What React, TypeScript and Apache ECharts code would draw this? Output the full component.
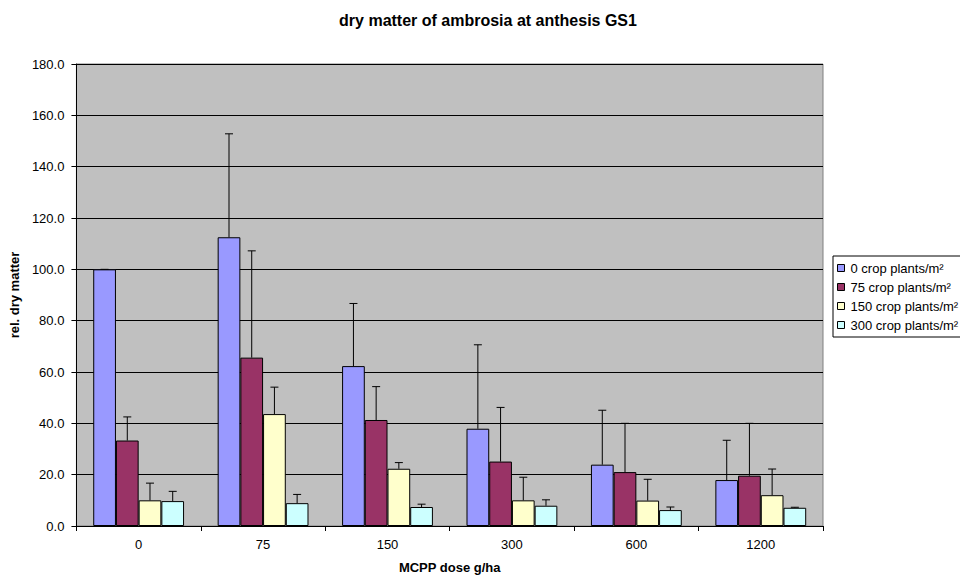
import React, { useEffect, useRef } from "react";
import * as echarts from "echarts";

const categories = ["0", "75", "150", "300", "600", "1200"];
const seriesNames = ["0 crop plants/m²", "75 crop plants/m²", "150 crop plants/m²", "300 crop plants/m²"];
const colors = ["#9999FF", "#993366", "#FFFFCC", "#CCFFFF"];

const vals0 = [100.0, 112.5, 62.3, 37.9, 23.9, 17.9];
const vals75 = [33.3, 65.6, 41.3, 25.1, 21.0, 19.6];
const vals150 = [10.0, 43.6, 22.3, 10.0, 9.9, 12.0];
const vals300 = [9.7, 8.9, 7.4, 7.9, 6.2, 7.1];

const errTop0 = [100.0, 152.8, 86.7, 70.6, 45.1, 33.4];
const errTop75 = [42.5, 107.2, 54.3, 46.2, 40.0, 40.0];
const errTop150 = [16.7, 54.1, 24.7, 19.0, 18.2, 22.2];
const errTop300 = [13.5, 12.3, 8.5, 10.2, 7.4, 7.3];

const allVals = [vals0, vals75, vals150, vals300];
const allErr = [errTop0, errTop75, errTop150, errTop300];

const CAT_GAP = 0.27;
const FONT = "'Liberation Sans', Arial, sans-serif";

export default function App() {
  const ref = useRef<HTMLDivElement>(null);
  useEffect(() => {
    if (!ref.current) return;
    const chart = echarts.init(ref.current, null, { renderer: "svg" });

    const barSeries = allVals.map((v, i) => ({
      name: seriesNames[i],
      type: "bar",
      data: v,
      barGap: "0%",
      barCategoryGap: CAT_GAP * 100 + "%",
      itemStyle: { color: colors[i], borderColor: "#000", borderWidth: 1 },
      z: 2,
    }));

    const errSeries = allErr.map((e, i) => ({
      type: "custom",
      name: "err" + i,
      data: e.map((top, c) => [c, allVals[i][c], top]),
      encode: { x: 0, y: [1, 2] },
      z: 3,
      silent: true,
      renderItem: (params: any, api: any) => {
        const c = api.value(0);
        const base = api.coord([c, api.value(1)]);
        const top = api.coord([c, api.value(2)]);
        const band = api.size([1, 0])[0];
        const barW = (band * (1 - CAT_GAP)) / 4;
        const x = base[0] - (band * (1 - CAT_GAP)) / 2 + (i + 0.5) * barW;
        const style = { stroke: "#000", lineWidth: 1, fill: "none" };
        return {
          type: "group",
          children: [
            { type: "line", shape: { x1: x, y1: base[1], x2: x, y2: top[1] }, style },
            { type: "line", shape: { x1: x - 4, y1: top[1], x2: x + 4, y2: top[1] }, style },
          ],
        };
      },
    }));

    chart.setOption({
      animation: false,
      backgroundColor: "#fff",
      title: {
        text: "dry matter of ambrosia at anthesis GS1",
        left: 483,
        textAlign: "center",
        top: 7,
        textStyle: { fontFamily: FONT, fontSize: 16, fontWeight: "bold", color: "#000" },
      },
      legend: {
        data: seriesNames.map((n, i) => ({ name: n, itemStyle: { color: colors[i], borderColor: "#000", borderWidth: 1 } })),
        orient: "vertical",
        left: 833,
        top: 256,
        icon: "rect",
        itemWidth: 7,
        itemHeight: 7,
        itemGap: 5,
        padding: [5, 4, 5, 4],
        borderColor: "#000",
        borderWidth: 1,
        backgroundColor: "#fff",
        textStyle: { fontFamily: FONT, fontSize: 13, lineHeight: 14, color: "#000", padding: [0, 0, 0, 1] },
      },
      grid: {
        left: 76,
        right: 137,
        top: 64,
        bottom: 50,
        show: true,
        backgroundColor: "#C0C0C0",
        borderColor: "#808080",
        borderWidth: 1,
      },
      xAxis: {
        type: "category",
        data: categories,
        name: "MCPP dose g/ha",
        nameLocation: "middle",
        nameGap: 35,
        nameTextStyle: { fontFamily: FONT, fontSize: 13, fontWeight: "bold", color: "#000" },
        axisLine: { lineStyle: { color: "#000", width: 1 } },
        axisTick: { show: true, length: 5, alignWithLabel: false, lineStyle: { color: "#000" } },
        axisLabel: { fontFamily: FONT, fontSize: 13, color: "#000", margin: 12 },
        splitLine: { show: false },
      },
      yAxis: {
        type: "value",
        min: 0,
        max: 180,
        interval: 20,
        name: "rel. dry matter",
        nameLocation: "middle",
        nameGap: 51,
        nameTextStyle: { fontFamily: FONT, fontSize: 13, fontWeight: "bold", color: "#000" },
        axisLine: { show: true, lineStyle: { color: "#000", width: 1 } },
        axisTick: { show: true, length: 5, lineStyle: { color: "#000" } },
        axisLabel: { fontFamily: FONT, fontSize: 13, color: "#000", margin: 12, formatter: (v: number) => v.toFixed(1) },
        splitLine: { show: true, lineStyle: { color: "#000", width: 1 } },
      },
      series: [...barSeries, ...errSeries],
    });
    return () => chart.dispose();
  }, []);
  return <div ref={ref} style={{ position: "fixed", left: 0, top: 0, width: 960, height: 579 }} />;
}
